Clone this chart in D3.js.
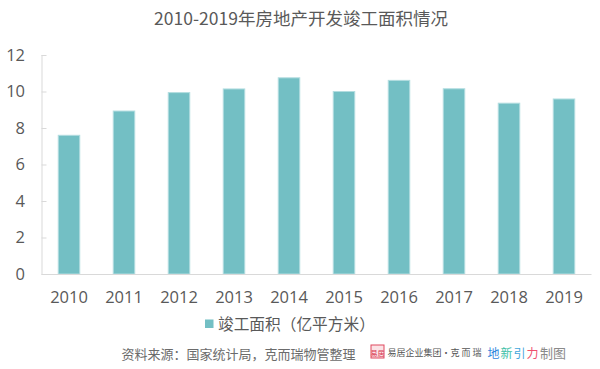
<!DOCTYPE html>
<html>
<head>
<meta charset="utf-8">
<script src="https://cdn.jsdelivr.net/npm/d3@7/dist/d3.min.js"></script>
<style>
html,body{margin:0;padding:0;background:#fff;}
svg{display:block;}
</style>
</head>
<body>
<svg id="chart" width="600" height="369"></svg>
<script>
const title = "2010-2019年房地产开发竣工面积情况";
const years = ["2010","2011","2012","2013","2014","2015","2016","2017","2018","2019"];
const completedArea = [7.60, 8.93, 9.94, 10.14, 10.75, 10.00, 10.61, 10.15, 9.36, 9.59];
const yTicks = [0, 2, 4, 6, 8, 10, 12];
const seriesName = "竣工面积（亿平方米）";
const sourceText = "资料来源：国家统计局，克而瑞物管整理";
const logoText = "易居企业集团·克 而 瑞";
const brandChars = ["地","新","引","力"];
const brandColors = ["#2f86dd","#3dbfa8","#3fa6dc","#ef4f6e"];
const madeText = "制图";

const svg = d3.select("#chart");
const cjk = "'Noto Sans CJK SC', 'Noto Sans', sans-serif";
const num = "'Open Sans', 'Noto Sans', sans-serif";

const x = d3.scaleBand().domain(years).range([41.5, 591.5]).paddingInner(0.609).paddingOuter(0.3045);
const y = d3.scaleLinear().domain([0, 12]).range([274, 55]);

// title
svg.append("text").attr("x", 301).attr("y", 25).attr("text-anchor", "middle")
  .attr("font-family", cjk).attr("font-size", 17.5).attr("fill", "#595959").text(title);

// y axis
const yAxis = svg.append("g").attr("transform", "translate(41.5,0)")
  .call(d3.axisRight(y).tickValues(yTicks).tickSize(5).tickFormat(""));
yAxis.select(".domain").attr("stroke", "#d9d9d9").attr("d", `M0.5,${y(12)}V${y(0)}`);
yAxis.selectAll(".tick line").attr("stroke", "#d9d9d9");

svg.append("g").selectAll("text").data(yTicks).join("text")
  .attr("x", 25).attr("y", d => y(d)).attr("dy", "0.36em").attr("text-anchor", "end")
  .attr("font-family", num).attr("font-size", 16.5).attr("fill", "#595959").text(d => d);

// bars
svg.append("g").selectAll("rect").data(completedArea).join("rect")
  .attr("x", (d, i) => x(years[i]))
  .attr("y", d => y(d))
  .attr("width", x.bandwidth())
  .attr("height", d => y(0) - y(d))
  .attr("fill", "#73bfc4")
  .attr("stroke", "#b3dde0").attr("stroke-width", 1);

// x axis
const xAxis = svg.append("g").attr("transform", `translate(0,${y(0)})`)
  .call(d3.axisBottom(x).tickSize(0).tickFormat(""));
xAxis.select(".domain").attr("stroke", "#d9d9d9").attr("d", "M41.5,0.5H591.5");

svg.append("g").selectAll("text").data(years).join("text")
  .attr("x", d => x(d) + x.bandwidth() / 2).attr("y", 302.5).attr("text-anchor", "middle")
  .attr("font-family", num).attr("font-size", 16.5).attr("fill", "#595959").text(d => d);

// legend
svg.append("rect").attr("x", 205).attr("y", 319.5).attr("width", 8.5).attr("height", 8.5).attr("fill", "#73bfc4");
svg.append("text").attr("x", 218).attr("y", 330).attr("font-family", cjk).attr("font-size", 15.7)
  .attr("fill", "#595959").text(seriesName);

// source
svg.append("text").attr("x", 121.5).attr("y", 358.5).attr("font-family", cjk).attr("font-size", 13)
  .attr("fill", "#6b6b6b").text(sourceText);

// logo seal
svg.append("rect").attr("x", 371).attr("y", 345).attr("width", 13).attr("height", 13)
  .attr("fill", "#fbe3e6").attr("stroke", "#e0485e").attr("stroke-width", 1);
svg.append("text").attr("x", 377.5).attr("y", 355.5).attr("text-anchor", "middle")
  .attr("font-family", cjk).attr("font-size", 7).attr("fill", "#d8334d").text("易居");
svg.append("text").attr("x", 387.5).attr("y", 355.5).attr("font-family", cjk).attr("font-size", 9)
  .attr("fill", "#555").text(logoText);
svg.append("g").selectAll("text").data(brandChars).join("text")
  .attr("x", (d, i) => 487.5 + i * 13).attr("y", 357.5)
  .attr("font-family", cjk).attr("font-size", 12)
  .attr("fill", (d, i) => brandColors[i]).text(d => d);
svg.append("text").attr("x", 540).attr("y", 358).attr("font-family", cjk).attr("font-size", 13)
  .attr("fill", "#8a8a8a").text(madeText);
</script>
</body>
</html>
